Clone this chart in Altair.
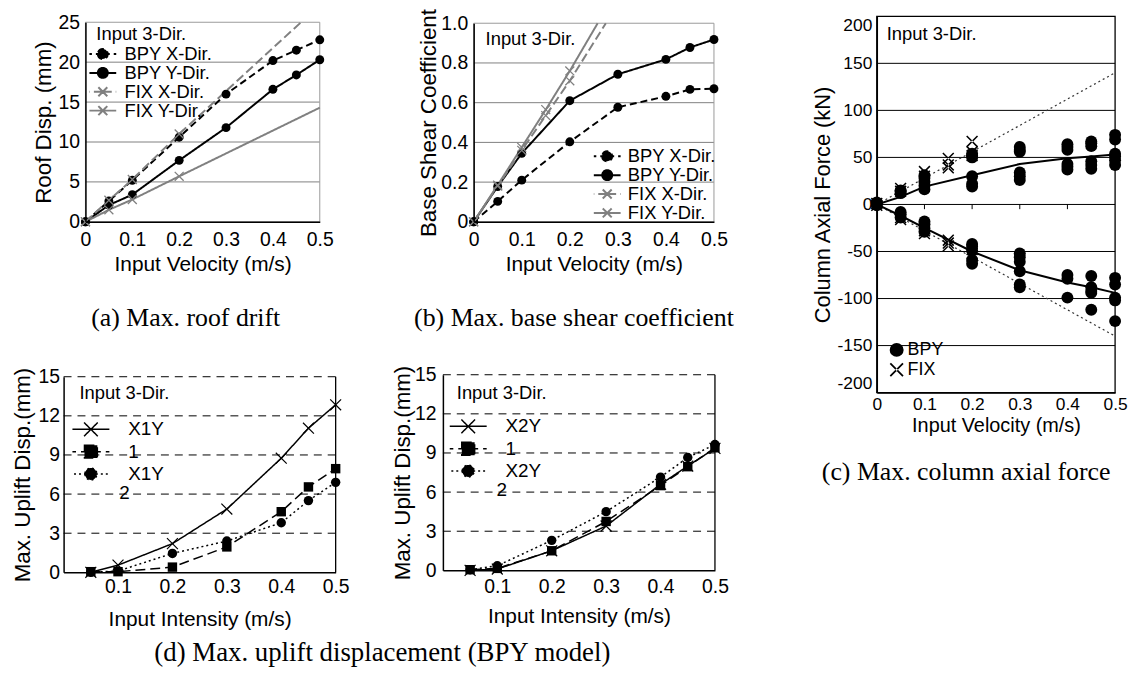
import json
import altair as alt
import pandas as pd

# ------------------------------------------------------------------ data
vel_ticks = [0, 0.1, 0.2, 0.3, 0.4, 0.5]

# (a) Max. roof drift (mm)
a_vel = [0, 0.05, 0.1, 0.2, 0.3, 0.4, 0.45, 0.5]
a_bpy_x = [0, 2.6, 5.2, 10.6, 16.0, 20.2, 21.5, 22.8]
a_bpy_y = [0, 2.1, 3.4, 7.7, 11.8, 16.6, 18.4, 20.3]
a_fix_vel = [0, 0.05, 0.1, 0.2]
a_fix_x = [0, 2.7, 5.3, 11.0]
a_fix_y = [0, 1.5, 2.8, 5.7]
a_fix_x_end = [0.46, 25.0]
a_fix_y_end = [0.5, 14.3]
a_yticks = [0, 5, 10, 15, 20, 25]
a_grid = [5, 10, 15, 20]

# (b) Max. base shear coefficient
b_vel = [0, 0.05, 0.1, 0.2, 0.3, 0.4, 0.45, 0.5]
b_bpy_x = [0, 0.103, 0.21, 0.403, 0.577, 0.632, 0.667, 0.67]
b_bpy_y = [0, 0.178, 0.345, 0.61, 0.743, 0.818, 0.878, 0.918]
b_fix_vel = [0, 0.05, 0.1, 0.15, 0.2]
b_fix_x = [0, 0.18, 0.36, 0.535, 0.71]
b_fix_y = [0, 0.185, 0.375, 0.565, 0.76]
b_fix_x_end = [0.275, 1.0]
b_fix_y_end = [0.258, 1.0]
b_yticks = [0, 0.2, 0.4, 0.6, 0.8, 1.0]
b_grid = [0.2, 0.4, 0.6, 0.8]

series_ab = ["BPY X-Dir.", "BPY Y-Dir.", "FIX X-Dir.", "FIX Y-Dir."]

# (c) Max. column axial force (kN)
c_vel = [0, 0.05, 0.1, 0.2, 0.3, 0.4, 0.45, 0.5]
c_bpy_pos = [[1, 2], [12, 14, 15], [16, 20, 24, 28, 31], [19, 22, 30, 50, 52, 54],
             [26, 30, 34, 56, 58, 61], [37, 40, 43, 58, 61, 64], [38, 42, 46, 62, 65, 67],
             [42, 47, 51, 54, 69, 74]]
c_bpy_neg = [[-1], [-8, -11, -14], [-18, -21, -25, -29], [-42, -45, -49, -59, -63],
             [-52, -56, -61, -71, -85, -88], [-75, -79, -99], [-76, -88, -92, -94, -112],
             [-78, -85, -99, -102, -124]]
c_fix_vel = [0, 0.05, 0.1, 0.15, 0.2]
c_fix_pos = [[1], [14, 17], [30, 35], [39, 42, 49], [52, 56, 67]]
c_fix_neg = [[-1], [-14, -16], [-28, -31], [-38, -41, -44], [-48, -52]]
c_trend_pos = [0, 8, 19, 31, 43, 49, 51, 53]
c_trend_neg = [0, -12, -25, -50, -70, -83, -88, -94]
c_fix_line_vel = [0, 0.5]
c_fix_line_pos = [0, 140]
c_fix_line_neg = [0, -140]
c_yticks = [-200, -150, -100, -50, 0, 50, 100, 150, 200]
c_grid = [-150, -100, -50, 0, 50, 100, 150]
c_zero_ticks = [0.1, 0.2, 0.3, 0.4]

# (d) Max. uplift displacement (mm), BPY model
d_vel = [0.05, 0.1, 0.2, 0.3, 0.4, 0.45, 0.5]
d1_s1 = [0, 0.55, 2.2, 4.85, 8.75, 11.05, 12.85]
d1_s2 = [0.05, 0.05, 0.4, 1.95, 4.65, 6.55, 7.95]
d1_s3 = [0, 0.1, 1.45, 2.4, 3.8, 5.5, 6.9]
d2_s1 = [0, 0.1, 1.5, 3.4, 6.6, 8.0, 9.35]
d2_s2 = [0.05, 0.15, 1.5, 3.75, 6.5, 7.95, 9.4]
d2_s3 = [0.05, 0.35, 2.3, 4.5, 7.15, 8.65, 9.65]
d_xticks = [0.1, 0.2, 0.3, 0.4, 0.5]
d_yticks = [0, 3, 6, 9, 12, 15]
d_grid = [3, 6, 9, 12, 15]

# ------------------------------------------------------------------ style helpers
W, H, M = 1128, 660, 8
SANS, SERIF = "Liberation Sans", "Liberation Serif"
GRAY = "#808080"
XPATH = "M-1,-1L1,1M-1,1L1,-1"
XPOLY = "M-1,-0.82L-0.82,-1L1,0.82L0.82,1ZM-1,0.82L-0.82,1L1,-0.82L0.82,-1Z"


def geom(x0, x1, y0, y1):
    return {"x": [x0 - M, x1 - M], "y": [y1 - M, y0 - M]}


def sel(mapping, default):
    expr = json.dumps(default)
    for k, v in reversed(list(mapping.items())):
        expr = f"datum.value === {json.dumps(k)} ? {json.dumps(v)} : ({expr})"
    return expr


def tick_expr(dec):
    return (f"datum.value == 0 ? '0' : (datum.value < 0 ? '-' : '') + "
            f"format(abs(datum.value), '.{dec}f')")


def xaxis(g, values, dec, lsize, lpad, tsize, tpad):
    return alt.Axis(orient="bottom", offset=g["y"][0] - H, values=values,
                    labelExpr=tick_expr(dec), grid=False, ticks=False,
                    domainColor="black", domainWidth=1.5, labelFont=SANS,
                    labelFontSize=lsize, labelColor="black", labelPadding=lpad,
                    labelOverlap=False, labelFlush=False, titleFont=SANS,
                    titleFontSize=tsize, titleFontWeight="normal", titleColor="black",
                    titlePadding=tpad, zindex=1)


def yaxis(g, values, dec, lsize, lpad, tsize, tpad, flush=False):
    return alt.Axis(orient="left", offset=-g["x"][0], values=values,
                    labelExpr=tick_expr(dec), grid=False, ticks=False,
                    domainColor="black", domainWidth=1.5, labelFont=SANS,
                    labelFontSize=lsize, labelColor="black", labelPadding=lpad,
                    labelOverlap=False, labelFlush=flush, titleFont=SANS,
                    titleFontSize=tsize, titleFontWeight="normal", titleColor="black",
                    titlePadding=tpad, zindex=1)


def encoders(g, xdom, ydom, xax, yax, xtitle, ytitle):
    xs = alt.Scale(domain=xdom, range=g["x"], nice=False, zero=False)
    ys = alt.Scale(domain=ydom, range=g["y"], nice=False, zero=False)

    def X(f):
        return alt.X(f, type="quantitative", scale=xs, axis=xax, title=xtitle)

    def Y(f):
        return alt.Y(f, type="quantitative", scale=ys, axis=yax, title=ytitle)
    return X, Y


def long(items):
    rows = []
    for s, xs, ys in items:
        rows += [{"series": s, "x": x, "y": y} for x, y in zip(xs, ys)]
    return pd.DataFrame(rows)


def grid_layer(X, Y, xdom, values, color, width, dash=None):
    df = pd.DataFrame({"x": [xdom[0]] * len(values), "x2": [xdom[1]] * len(values), "y": values})
    kw = dict(color=color, strokeWidth=width)
    if dash:
        kw["strokeDash"] = dash
    return alt.Chart(df).mark_rule(**kw).encode(x=X("x"), x2=alt.X2("x2"), y=Y("y"))


def frame_layer(X, Y, xdom, ydom, color, width):
    df = pd.DataFrame([{"x": xdom[0], "x2": xdom[1], "y": ydom[0], "y2": ydom[1]}])
    return alt.Chart(df).mark_rect(fill="transparent", stroke=color, strokeWidth=width).encode(
        x=X("x"), x2=alt.X2("x2"), y=Y("y"), y2=alt.Y2("y2"))


def vline_layer(X, Y, xv, ydom, color, width):
    xv = xv if isinstance(xv, list) else [xv]
    df = pd.DataFrame({"x": xv, "y": [ydom[0]] * len(xv), "y2": [ydom[1]] * len(xv)})
    return alt.Chart(df).mark_rule(color=color, strokeWidth=width).encode(
        x=X("x"), y=Y("y"), y2=alt.Y2("y2"))


def text_layer(text, x, y, size, font=SANS, align="left"):
    return alt.Chart(alt.Data(values=[{}])).mark_text(
        text=text, align=align, baseline="middle", font=font, fontSize=size,
        color="black").encode(x=alt.value(x - M), y=alt.value(y - M))


def point_layer(df, X, Y, shape, filled, size, color, sw=1.0):
    return alt.Chart(df).mark_point(shape=shape, filled=filled, size=size, color=color,
                                    opacity=1, strokeWidth=sw).encode(x=X("x"), y=Y("y"))


def line_layer(df, X, Y, order, colors, dashes, width, legend):
    return alt.Chart(df).mark_line(strokeWidth=width).encode(
        x=X("x"), y=Y("y"),
        color=alt.Color("series:N", scale=alt.Scale(domain=order, range=colors), legend=legend),
        strokeDash=alt.StrokeDash("series:N", scale=alt.Scale(domain=order, range=dashes), legend=None),
        order=alt.Order("x:Q"))


def line_legend(order, shapes, fills, dashes, x, y, fsize, ssize, soff, loff, rowpad, sw,
                labels=None):
    kw = dict(orient="none", legendX=x - M, legendY=y - M, title=None, padding=0,
              labelFont=SANS, labelFontSize=fsize, labelColor="black", symbolSize=ssize,
              symbolStrokeWidth=sw, symbolOffset=soff, labelOffset=loff, rowPadding=rowpad,
              symbolType={"expr": sel(dict(zip(order, shapes)), shapes[-1])},
              symbolFillColor={"expr": sel(dict(zip(order, fills)), fills[-1])},
              symbolDash={"expr": sel(dict(zip(order, dashes)), dashes[-1])})
    if labels:
        kw["labelExpr"] = sel(dict(zip(order, labels)), labels[-1])
    return alt.Legend(**kw)


# legend symbol paths (unit = sqrt(size)/2 px); segments drawn from the centre outwards
def seg(L):
    return f"M0,0L-{L},0M0,0L{L},0"


def xs_(r):
    return f"M0,0L{r},{r}M0,0L-{r},-{r}M0,0L{r},-{r}M0,0L-{r},{r}"


def circ(r):
    return f"M-{r},0A{r},{r},0,1,0,{r},0A{r},{r},0,1,0,-{r},0Z"


LC1 = seg(2.7) + circ(1)
LX1 = seg(2.7) + xs_(0.9)
LX2 = seg(3.1) + xs_(1.15)
LS2 = seg(3.1) + "M-1.08,-1.08L1.08,-1.08L1.08,1.08L-1.08,1.08Z"
LC2 = seg(3.1) + circ(1)

ab_colors = ["black", "black", GRAY, GRAY]
ab_dashes = [[7, 4], [1, 0], [9, 4], [1, 0]]
ab_shapes = [LC1, LC1, LX1, LX1]
ab_fills = ["black", "black", "transparent", "transparent"]

# ------------------------------------------------------------------ panel (a)
gA = geom(86, 322, 20, 221)
XA, YA = encoders(gA, [0, 0.5], [0, 25],
                  xaxis(gA, vel_ticks, 1, 19.5, 8.5, 21, 5),
                  yaxis(gA, a_yticks, 0, 19.5, 6, 22.5, 2),
                  "Input Velocity (m/s)", "Roof Disp. (mm)")
a_lines = long([
    ("BPY X-Dir.", a_vel, a_bpy_x),
    ("BPY Y-Dir.", a_vel, a_bpy_y),
    ("FIX X-Dir.", a_fix_vel + [a_fix_x_end[0]], a_fix_x + [a_fix_x_end[1]]),
    ("FIX Y-Dir.", a_fix_vel + [a_fix_y_end[0]], a_fix_y + [a_fix_y_end[1]]),
])
a_circ = long([("BPY X-Dir.", a_vel, a_bpy_x), ("BPY Y-Dir.", a_vel, a_bpy_y)])
a_cross = long([("FIX X-Dir.", a_fix_vel, a_fix_x), ("FIX Y-Dir.", a_fix_vel, a_fix_y)])
legA = line_legend(series_ab, ab_shapes, ab_fills, ab_dashes, 90, 42.75, 18.5, 100, 4.25, 12.5, 0, 2)
panelA = alt.layer(
    grid_layer(XA, YA, [0, 0.5], a_grid, GRAY, 1),
    frame_layer(XA, YA, [0, 0.5], [0, 25], "#9a9a9a", 1),
    line_layer(a_lines, XA, YA, series_ab, ab_colors, ab_dashes, 2, legA),
    point_layer(a_circ, XA, YA, "circle", True, 81, "black"),
    point_layer(a_cross, XA, YA, XPATH, False, 81, GRAY, 1.3),
    text_layer("Input 3-Dir.", 97, 32, 18.5),
    text_layer("(a) Max. roof drift", 187, 318, 26, SERIF, "center"),
)

# ------------------------------------------------------------------ panel (b)
gB = geom(477, 719, 21, 221)
XB, YB = encoders(gB, [0, 0.5], [0, 1.0],
                  xaxis(gB, vel_ticks, 1, 19.5, 8.5, 21, 5),
                  yaxis(gB, b_yticks, 1, 19.5, 6, 22.5, 0),
                  "Input Velocity (m/s)", "Base Shear Coefficient")
b_lines = long([
    ("BPY X-Dir.", b_vel, b_bpy_x),
    ("BPY Y-Dir.", b_vel, b_bpy_y),
    ("FIX X-Dir.", b_fix_vel + [b_fix_x_end[0]], b_fix_x + [b_fix_x_end[1]]),
    ("FIX Y-Dir.", b_fix_vel + [b_fix_y_end[0]], b_fix_y + [b_fix_y_end[1]]),
])
b_circ = long([("BPY X-Dir.", b_vel, b_bpy_x), ("BPY Y-Dir.", b_vel, b_bpy_y)])
b_cross = long([("FIX X-Dir.", b_fix_vel, b_fix_x), ("FIX Y-Dir.", b_fix_vel, b_fix_y)])
legB = line_legend(series_ab, ab_shapes, ab_fills, ab_dashes, 598, 145.75, 18.5, 100, 4.25, 11.5, 0, 2)
panelB = alt.layer(
    grid_layer(XB, YB, [0, 0.5], b_grid, GRAY, 1),
    frame_layer(XB, YB, [0, 0.5], [0, 1.0], "#9a9a9a", 1),
    line_layer(b_lines, XB, YB, series_ab, ab_colors, ab_dashes, 2, legB),
    point_layer(b_circ, XB, YB, "circle", True, 81, "black"),
    point_layer(b_cross, XB, YB, XPATH, False, 81, GRAY, 1.3),
    text_layer("Input 3-Dir.", 489, 37, 18.5),
    text_layer("(b) Max. base shear coefficient", 578, 318, 26, SERIF, "center"),
)

# ------------------------------------------------------------------ panel (c)
gC = geom(883, 1123, 14, 393)
XC, YC = encoders(gC, [0, 0.5], [-200, 200],
                  xaxis(gC, vel_ticks, 1, 17.5, 3.4, 20, 2.4),
                  yaxis(gC, c_yticks, 0, 17.5, 5, 22, 2.5, flush=True),
                  "Input Velocity (m/s)", "Column Axial Force (kN)")
c_bpy = pd.DataFrame([{"model": "BPY", "x": v, "y": y}
                      for v, p, n in zip(c_vel, c_bpy_pos, c_bpy_neg) for y in p + n])
c_fix = pd.DataFrame([{"model": "FIX", "x": v, "y": y}
                      for v, p, n in zip(c_fix_vel, c_fix_pos, c_fix_neg) for y in p + n])
c_trend = long([("pos", c_vel, c_trend_pos), ("neg", c_vel, c_trend_neg)])
c_fixline = long([("pos", c_fix_line_vel, c_fix_line_pos), ("neg", c_fix_line_vel, c_fix_line_neg)])
c_shape = alt.Scale(domain=["BPY", "FIX"], range=["circle", XPOLY])
legC = alt.Legend(orient="none", legendX=894 - M, legendY=341 - M, title=None, padding=0,
                  labelFont=SANS, labelFontSize=18, labelColor="black", symbolSize=196,
                  symbolOffset=0, labelOffset=2, rowPadding=0, symbolFillColor="black")
panelC = alt.layer(
    grid_layer(XC, YC, [0, 0.5], c_grid, "black", 1),
    frame_layer(XC, YC, [0, 0.5], [-200, 200], "black", 1.3),
    vline_layer(XC, YC, c_zero_ticks, [0, -5], "black", 1),
    alt.Chart(c_fixline).mark_line(color="#333333", strokeWidth=1.2, strokeDash=[2, 3]).encode(
        x=XC("x"), y=YC("y"), detail="series:N"),
    alt.Chart(c_trend).mark_line(color="black", strokeWidth=2).encode(
        x=XC("x"), y=YC("y"), detail="series:N"),
    alt.Chart(c_bpy).mark_point(filled=True, size=144, color="black", opacity=1).encode(
        x=XC("x"), y=YC("y"), shape=alt.Shape("model:N", scale=c_shape, legend=legC)),
    alt.Chart(c_fix).mark_point(filled=True, size=144, color="black", opacity=1).encode(
        x=XC("x"), y=YC("y"), shape=alt.Shape("model:N", scale=c_shape, legend=legC)),
    text_layer("Input 3-Dir.", 893, 32, 18.5),
    text_layer("(c) Max. column axial force", 973, 473, 26, SERIF, "center"),
)


# ------------------------------------------------------------------ panels (d)
def uplift_panel(g, names, labels, s1, s2, s3, leg_x, leg_y, xl_pad, xt_pad, yl_pad, yt_pad,
                 txt_x, txt_y, two_x, two_y):
    X, Y = encoders(g, [0, 0.5], [0, 15],
                    xaxis(g, d_xticks, 1, 19.5, xl_pad, 21, xt_pad),
                    yaxis(g, d_yticks, 0, 19.5, yl_pad, 22.5, yt_pad),
                    "Input Intensity (m/s)", "Max. Uplift Disp.(mm)")
    df = long([(names[0], d_vel, s1), (names[1], d_vel, s2), (names[2], d_vel, s3)])
    dashes = [[1, 0], [10, 5], [2, 3]]
    leg = line_legend(names, [LX2, LS2, LC2], ["transparent", "black", "black"], dashes,
                      leg_x, leg_y, 19, 144, 9, 28, 2.5, 1.5, labels)
    return alt.layer(
        grid_layer(X, Y, [0, 0.5], d_grid, "black", 1, [8, 6]),
        vline_layer(X, Y, 0.5, [0, 15], "black", 1.3),
        line_layer(df, X, Y, names, ["black"] * 3, dashes, 1.5, leg),
        point_layer(long([(names[0], d_vel, s1)]), X, Y, XPATH, False, 121, "black", 1.2),
        point_layer(long([(names[1], d_vel, s2)]), X, Y, "square", True, 90, "black"),
        point_layer(long([(names[2], d_vel, s3)]), X, Y, "circle", True, 90, "black"),
        text_layer("Input 3-Dir.", txt_x, txt_y, 18.5),
        text_layer("2", two_x, two_y, 19),
    )


gD1 = geom(64, 338, 377, 574)
panelD1 = uplift_panel(gD1, ["X1Y1", "X1Y2", "X1Y3"], ["X1Y", "1", "X1Y"],
                       d1_s1, d1_s2, d1_s3, 73, 420.5, 5.6, 12, 4, 3.5, 80, 393, 120, 494)
gD2 = geom(446, 720, 375, 572)
panelD2 = uplift_panel(gD2, ["X2Y1", "X2Y2", "X2Y3"], ["X2Y", "1", "X2Y"],
                       d2_s1, d2_s2, d2_s3, 453, 417.5, 7.6, 9, 7, 0, 460, 393, 500, 491)
caption_d = text_layer("(d) Max. uplift displacement (BPY model)", 385, 655, 27, SERIF, "center")

chart = alt.layer(panelA, panelB, panelC, panelD1, panelD2, caption_d).resolve_scale(
    x="independent", y="independent", color="independent",
    strokeDash="independent", shape="independent",
).properties(
    width=W, height=H, autosize=alt.AutoSizeParams(type="none"), padding=0,
).configure_view(stroke="transparent")

chart.save("out.html", embed_options={"renderer": "svg", "actions": False})
